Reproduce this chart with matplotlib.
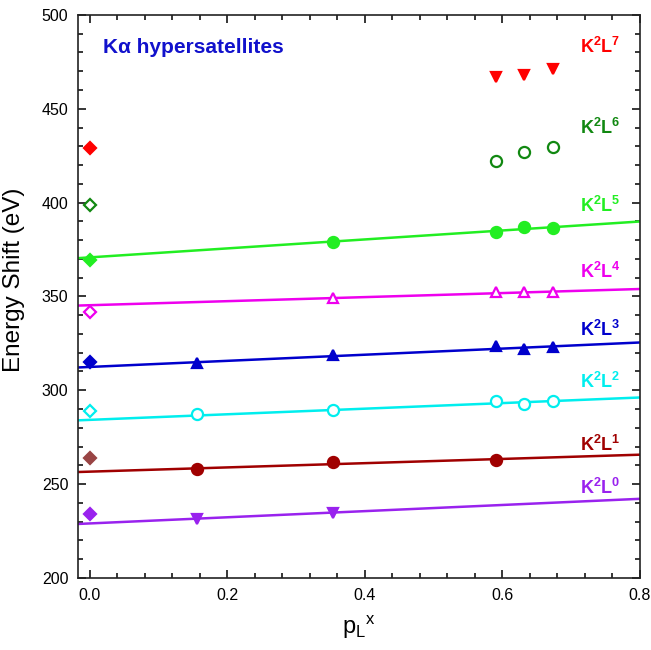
import numpy as np
import matplotlib.pyplot as plt
from matplotlib.ticker import MultipleLocator

plt.rcParams['font.family'] = ['Liberation Sans', 'DejaVu Sans']
plt.rcParams['mathtext.fontset'] = 'custom'
plt.rcParams['mathtext.rm'] = 'Liberation Sans'
plt.rcParams['mathtext.bf'] = 'Liberation Sans:bold'
plt.rcParams['mathtext.it'] = 'Liberation Sans:italic'

# data ###############################
names = ['0', '1', '2', '3', '4', '5', '6', '7']
colors = ['#9922ee', '#a00000', '#00eeee', '#0000cc', '#ee00ee', '#22ee22', '#118811', '#ff0000']
diamond_colors = ['#9922ee', '#994444', '#00eeee', '#0000cc', '#ee00ee', '#22ee22', '#118811', '#ff0000']
diamond_y = [234.0, 263.8, 289.0, 314.8, 341.6, 369.6, 398.8, 429.0]
diamond_open = [False, False, True, False, True, False, True, False]

x0 = [0.156, 0.354]
y0 = [231.5, 234.5]
x1 = [0.156, 0.354, 0.590]
y1 = [258.0, 261.5, 262.8]
x2 = [0.156, 0.354, 0.590, 0.631, 0.673]
y2 = [287.3, 289.6, 294.0, 292.9, 294.4]
x3 = [0.156, 0.354, 0.590, 0.631, 0.673]
y3 = [314.5, 319.0, 323.8, 321.8, 323.2]
x4 = [0.354, 0.590, 0.631, 0.673]
y4 = [349.2, 352.6, 352.1, 352.6]
x5 = [0.354, 0.590, 0.631, 0.673]
y5 = [379.2, 384.2, 387.2, 386.3]
x6 = [0.590, 0.631, 0.673]
y6 = [421.9, 427.2, 429.5]
x7 = [0.590, 0.631, 0.673]
y7 = [467.1, 468.0, 471.0]

xs = [x0, x1, x2, x3, x4, x5, x6, x7]
ys = [y0, y1, y2, y3, y4, y5, y6, y7]
markers = ['v', 'o', 'o', '^', '^', 'o', 'o', 'v']
open_marks = [False, False, True, False, True, False, True, False]

# linear fits (intercept, slope), none for L6 and L7
fit_a = [229.0, 256.6, 284.2, 312.4, 345.3, 370.8, None, None]
fit_b = [16.4, 11.3, 14.9, 16.3, 10.8, 23.9, None, None]

label_y = [248, 271, 304.6, 332, 363, 398, 440, 483]
# ####################################

fig = plt.figure(figsize=(6.51, 6.50), dpi=100)
ax = fig.add_axes([0.12, 0.111, 0.863, 0.866])

xmin, xmax = -0.017, 0.8
xl = np.array([xmin, xmax])

for i in range(8):
    c = colors[i]
    if fit_a[i] is not None:
        ax.plot(xl, fit_a[i] + fit_b[i] * xl, color=c, lw=1.8, zorder=2)
    fc = 'white' if open_marks[i] else c
    ax.plot(xs[i], ys[i], ls='none', marker=markers[i], ms=8 if markers[i] == 'o' else 7.5,
            mfc=fc, mec=c, mew=1.6, zorder=3)
    dc = diamond_colors[i]
    ax.plot([0.0], [diamond_y[i]], ls='none', marker='D', ms=6.2,
            mfc='white' if diamond_open[i] else dc, mec=dc, mew=1.6, zorder=3)
    ax.text(0.772, label_y[i], r'$\mathbf{K^{2}L^{%s}}$' % names[i], color=c,
            fontsize=13, ha='right', va='center')

ax.text(0.019, 482.4, 'K\u03b1 hypersatellites', color='#1111cc', fontsize=15,
        fontweight='bold', ha='left', va='center')

ax.set_xlim(xmin, xmax)
ax.set_ylim(200, 500)
ax.xaxis.set_major_locator(MultipleLocator(0.2))
ax.xaxis.set_minor_locator(MultipleLocator(0.04))
ax.yaxis.set_major_locator(MultipleLocator(50))
ax.yaxis.set_minor_locator(MultipleLocator(10))
ax.tick_params(which='both', direction='in', top=True, right=True, width=1.1)
ax.tick_params(which='major', length=6, labelsize=11.5, pad=7)
ax.tick_params(which='minor', length=3.5)
ax.tick_params(axis='x', labeltop=False)
ax.tick_params(axis='y', labelright=False)
for sp in ax.spines.values():
    sp.set_linewidth(1.2)
    sp.set_color('#222222')

ax.set_xlabel(r'p$_\mathregular{L}$$^\mathregular{x}$', fontsize=17, labelpad=8)
ax.set_ylabel('Energy Shift (eV)', fontsize=17.5, labelpad=10)
ax.yaxis.set_label_coords(-0.095, 0.53)

fig.savefig('out.png', dpi=100)
